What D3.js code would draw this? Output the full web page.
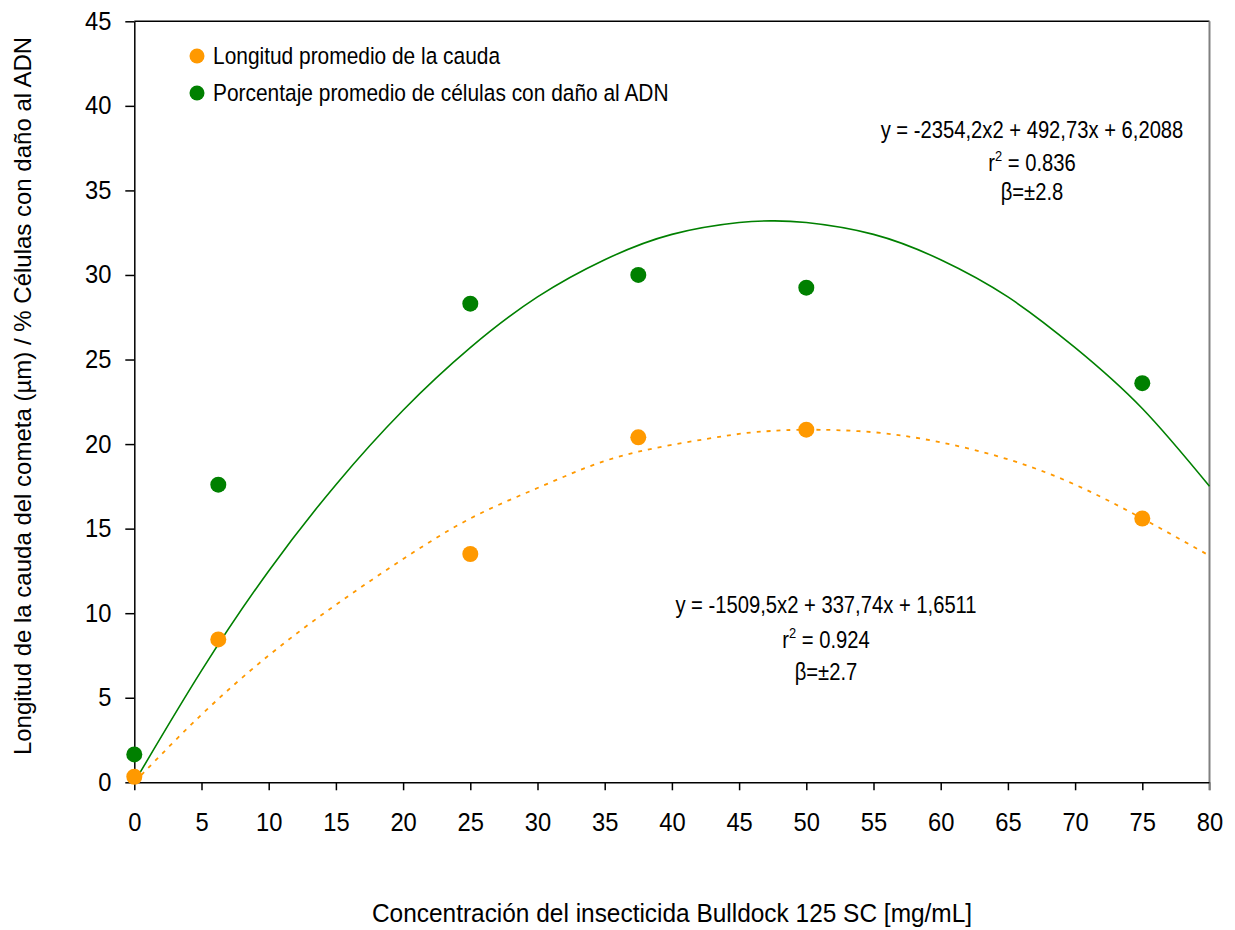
<!DOCTYPE html>
<html>
<head>
<meta charset="utf-8">
<script src="https://cdn.jsdelivr.net/npm/d3@7"></script>
<style>
  body { margin: 0; background: #fff; }
  text { font-family: "Liberation Sans", Arial, sans-serif; fill: #000; }
</style>
</head>
<body>
<div id="chart-area"></div>
<script>
// concentration levels (mg/mL)
const conc = [0, 6.25, 25, 37.5, 50, 75]
// mean tail length
const tailLength = [0.33, 8.45, 13.5, 20.4, 20.85, 15.6]
// mean % cells with DNA damage
const damagePct = [1.65, 17.6, 28.3, 30.0, 29.25, 23.6]

// trend curves
const trendX = [0, 5, 10, 15, 20, 25, 30, 35, 40, 45, 47.5, 50, 55, 60, 65, 70, 75, 80]
const trendDamage = [0, 6.6, 12.5, 17.6, 22.0, 25.7, 28.7, 30.9, 32.4, 33.1, 33.2, 33.1, 32.4, 30.9, 28.7, 25.7, 22.1, 17.5]
const trendTail = [0, 4.0, 7.5, 10.5, 13.2, 15.6, 17.4, 19.0, 19.95, 20.6, 20.78, 20.85, 20.7, 20.1, 19.1, 17.6, 15.6, 13.4]

const xTicks = d3.range(0, 81, 5)
const yTicks = d3.range(0, 46, 5)

const legendLabels = ["Longitud promedio de la cauda", "Porcentaje promedio de células con daño al ADN"]
const eqDamage = ["y = -2354,2x2 + 492,73x + 6,2088", "0.836", "β=±2.8"]
const eqTail = ["y = -1509,5x2 + 337,74x + 1,6511", "0.924", "β=±2.7"]

const ORANGE = "#ff9900"
const GREEN = "#008000"

const MARGIN = { LEFT: 134.3, TOP: 21.3 }
const WIDTH = 1075.2
const HEIGHT = 761

const svg = d3.select("#chart-area").append("svg")
  .attr("width", 1235)
  .attr("height", 930)

const g = svg.append("g")
  .attr("transform", `translate(${MARGIN.LEFT}, ${MARGIN.TOP})`)

const x = d3.scaleLinear().domain([0, 80]).range([0, WIDTH])
const y = d3.scaleLinear().domain([0, 45]).range([HEIGHT, 0])

// frame: top black, right grey
g.append("line")
  .attr("x1", 0).attr("x2", WIDTH).attr("y1", 0).attr("y2", 0)
  .attr("stroke", "#000").attr("stroke-width", 1.5)
g.append("line")
  .attr("x1", WIDTH).attr("x2", WIDTH).attr("y1", 0).attr("y2", HEIGHT + 8)
  .attr("stroke", "#808080").attr("stroke-width", 2)

// axes
const xAxisCall = d3.axisBottom(x).tickValues(xTicks).tickSize(8).tickSizeOuter(0).tickPadding(23)
const xAxis = g.append("g")
  .attr("transform", `translate(0, ${HEIGHT})`)
  .call(xAxisCall)
xAxis.selectAll("text").attr("font-size", "25px").attr("transform", "scale(0.95,1)")

const yAxisCall = d3.axisLeft(y).tickValues(yTicks).tickSize(9).tickSizeOuter(0).tickPadding(15)
const yAxis = g.append("g").call(yAxisCall)
yAxis.selectAll("text").attr("font-size", "25px").attr("transform", "scale(0.95,1)")

svg.selectAll(".domain, .tick line").attr("stroke", "#000").attr("stroke-width", 1.5)
xAxis.select(".tick:last-of-type line").attr("stroke", "#808080")

// trend lines
const line = d3.line().curve(d3.curveNatural)

g.append("path")
  .attr("d", line(trendX.map((d, i) => [x(d), y(trendDamage[i])])))
  .attr("fill", "none")
  .attr("stroke", GREEN)
  .attr("stroke-width", 1.6)

g.append("path")
  .attr("d", line(trendX.map((d, i) => [x(d), y(trendTail[i])])))
  .attr("fill", "none")
  .attr("stroke", ORANGE)
  .attr("stroke-width", 1.8)
  .attr("stroke-dasharray", "4,6")

// points
g.selectAll(".pt-damage").data(conc).enter().append("circle")
  .attr("class", "pt-damage")
  .attr("cx", d => x(d))
  .attr("cy", (d, i) => y(damagePct[i]))
  .attr("r", 8)
  .attr("fill", GREEN)

g.selectAll(".pt-tail").data(conc).enter().append("circle")
  .attr("class", "pt-tail")
  .attr("cx", d => x(d))
  .attr("cy", (d, i) => y(tailLength[i]))
  .attr("r", 8)
  .attr("fill", ORANGE)

// helper: narrow-looking text (scaled horizontally)
function label(parent, tx, ty, sx, size, anchor) {
  return parent.append("g").attr("transform", `translate(${tx}, ${ty}) scale(${sx}, 1)`)
    .append("text")
    .attr("text-anchor", anchor)
    .attr("font-size", size)
}

// legend
const legendColors = [ORANGE, GREEN]
legendLabels.forEach((txt, i) => {
  const row = svg.append("g").attr("transform", `translate(197, ${56 + i * 37})`)
  row.append("circle").attr("r", 7.5).attr("fill", legendColors[i])
  label(row, 16, 8, 0.89, "23.5px", "start").text(txt)
})

// equations
function equation(lines, cx, base) {
  label(svg, cx, base[0], 0.86, "23.5px", "middle").text(lines[0])
  const r = label(svg, cx, base[1], 0.86, "23.5px", "middle")
  r.append("tspan").text("r")
  r.append("tspan").attr("dy", -10).attr("font-size", "15px").text("2")
  r.append("tspan").attr("dy", 10).text(" = " + lines[1])
  label(svg, cx, base[2], 0.86, "23.5px", "middle").text(lines[2])
}
equation(eqDamage, 1032, [138, 171, 200])
equation(eqTail, 826, [613, 648, 680])

// axis titles
label(svg, 672, 922, 0.94, "26px", "middle")
  .text("Concentración del insecticida Bulldock 125 SC [mg/mL]")

svg.append("text")
  .attr("transform", "translate(31, 396) rotate(-90)")
  .attr("text-anchor", "middle")
  .attr("font-size", "24px")
  .text("Longitud de la cauda del cometa (µm) / % Células con daño al ADN")
</script>
</body>
</html>
